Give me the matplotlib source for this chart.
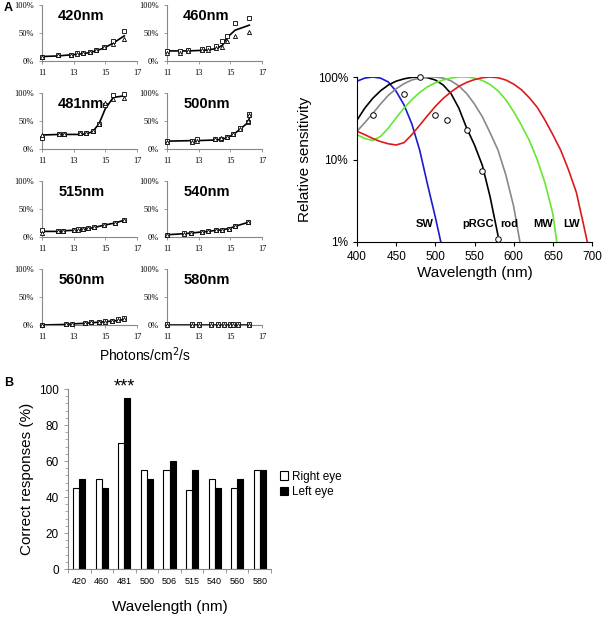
import numpy as np
import matplotlib
matplotlib.use('Agg')
import matplotlib.pyplot as plt

plt.rcParams['font.family'] = ['Liberation Sans', 'DejaVu Sans']

###  A (left): % correct vs log photons/cm2/s, squares / triangles + fit  ###
x420 = [11, 12, 12.8, 13.2, 13.6, 14, 14.4, 14.9, 15.5, 16.2]
sq420 = [8, 10, 11, 15, 15, 16, 19, 25, 35, 54]
tri420 = [8, 10, 11, 13, 15, 16, 19, 25, 30, 40]
fit420 = [8, 9, 11, 12, 13, 15, 18, 23, 32, 45]

x460 = [11, 11.8, 12.3, 13.2, 13.6, 14.1, 14.5, 14.8, 15.3, 16.2]
sq460 = [17, 17, 19, 21, 23, 26, 35, 45, 68, 76]
tri460 = [14, 15, 18, 19, 20, 23, 25, 35, 45, 52]
fit460 = [18, 18, 18, 19, 20, 22, 28, 42, 55, 64]

x481 = [11, 12.1, 12.4, 13.4, 13.8, 14.2, 14.6, 15.0, 15.5, 16.2]
sq481 = [20, 26, 26, 28, 28, 33, 45, 78, 97, 98]
tri481 = [25, 26, 26, 28, 28, 33, 45, 82, 90, 91]
fit481 = [25, 26, 26, 26, 27, 31, 45, 72, 92, 95]

x500 = [11, 12.6, 12.9, 14.0, 14.4, 14.8, 15.2, 15.6, 16.1, 16.2]
sq500 = [14, 14, 17, 18, 18, 22, 27, 38, 48, 62]
tri500 = [12, 13, 15, 18, 20, 22, 27, 35, 50, 60]
fit500 = [14, 15, 15, 16, 17, 20, 26, 35, 47, 55]

x515 = [11, 12, 12.3, 13, 13.3, 13.6, 13.9, 14.3, 14.9, 15.6, 16.2]
sq515 = [12, 10, 11, 12, 14, 15, 16, 18, 21, 25, 30]
tri515 = [8, 10, 11, 12, 13, 15, 16, 18, 21, 25, 30]
fit515 = [10, 10, 11, 12, 13, 14, 15, 17, 21, 25, 30]

x540 = [11, 12.1, 12.5, 13.2, 13.6, 14.1, 14.5, 14.9, 15.3, 16.1]
sq540 = [4, 7, 8, 9, 10, 12, 13, 14, 19, 26]
tri540 = [3, 6, 7, 9, 10, 12, 13, 14, 19, 26]
fit540 = [4, 6, 7, 9, 10, 12, 13, 15, 19, 26]

x560 = [11, 12.5, 12.9, 13.7, 14.1, 14.6, 15.0, 15.4, 15.8, 16.2]
sq560 = [0, 1, 2, 4, 5, 6, 7, 8, 10, 12]
tri560 = [0, 1, 2, 3, 5, 6, 6, 8, 9, 10]
fit560 = [0, 1, 2, 3, 4, 5, 6, 7, 8, 10]

x580 = [11, 12.6, 13.0, 13.8, 14.2, 14.6, 15.0, 15.2, 15.5, 16.2]
sq580 = [1, 1, 1, 1, 1, 1, 1, 1, 1, 1]
tri580 = [0, 0, 0, 0, 0, 0, 0, 0, 0, 0]
fit580 = [0.5, 0.5, 0.5, 0.5, 0.5, 0.5, 0.5, 0.5, 0.5, 0.5]

###  A (right): relative spectral sensitivity  ###
sw_nm = [400, 410, 420, 430, 440, 450, 460, 470, 480, 490, 500, 507]
sw = [0.89, 0.97, 1.0, 0.97, 0.87, 0.67, 0.46, 0.27, 0.13, 0.05, 0.02, 0.01]

prgc_nm = [400, 410, 420, 430, 440, 450, 460, 470, 480, 490, 500, 510, 520,
           530, 540, 550, 560, 570, 580]
prgc = [0.30, 0.42, 0.55, 0.68, 0.80, 0.89, 0.95, 0.99, 1.0, 0.98, 0.92,
        0.80, 0.63, 0.42, 0.24, 0.15, 0.085, 0.035, 0.012]

rod_nm = [400, 410, 420, 430, 440, 450, 460, 470, 480, 490, 500, 510, 520,
          530, 540, 550, 560, 570, 580, 590, 600, 608]
rod = [0.22, 0.28, 0.36, 0.47, 0.60, 0.72, 0.83, 0.92, 0.97, 1.0, 1.0, 0.97,
       0.90, 0.78, 0.63, 0.47, 0.33, 0.21, 0.13, 0.065, 0.027, 0.01]

mw_nm = [400, 410, 420, 430, 440, 450, 460, 470, 480, 490, 500, 510, 520,
         530, 540, 550, 560, 570, 580, 590, 600, 610, 620, 630, 640, 650, 655]
mw = [0.20, 0.18, 0.17, 0.19, 0.24, 0.32, 0.42, 0.53, 0.65, 0.76, 0.85, 0.92,
      0.97, 1.0, 1.0, 0.97, 0.91, 0.81, 0.68, 0.53, 0.38, 0.26, 0.17, 0.10,
      0.052, 0.022, 0.01]

lw_nm = [400, 410, 420, 430, 440, 450, 460, 470, 480, 490, 500, 510, 520,
         530, 540, 550, 560, 570, 580, 590, 600, 610, 620, 630, 640, 650,
         660, 670, 680, 690, 694]
lw = [0.22, 0.20, 0.18, 0.165, 0.155, 0.15, 0.16, 0.20, 0.26, 0.34, 0.44,
      0.55, 0.66, 0.77, 0.86, 0.93, 0.98, 1.0, 0.98, 0.92, 0.82, 0.70, 0.56,
      0.43, 0.30, 0.20, 0.13, 0.075, 0.04, 0.015, 0.01]

circ_nm = [420, 460, 481, 500, 515, 540, 560, 580]
circ = [0.35, 0.62, 1.0, 0.35, 0.30, 0.23, 0.073, 0.011]

###  B: correct responses  ###
wl_labels = ['420', '460', '481', '500', '506', '515', '540', '560', '580']
right_eye = [45, 50, 70, 55, 55, 44, 50, 45, 55]
left_eye = [50, 45, 95, 50, 60, 55, 45, 50, 55]

W, H = 606, 617
fig = plt.figure(figsize=(W / 100, H / 100), dpi=100)


def px_axes(left, top, width, height):
    return fig.add_axes([left / W, 1 - (top + height) / H, width / W, height / H])


small = [('420nm', x420, sq420, tri420, fit420), ('460nm', x460, sq460, tri460, fit460),
         ('481nm', x481, sq481, tri481, fit481), ('500nm', x500, sq500, tri500, fit500),
         ('515nm', x515, sq515, tri515, fit515), ('540nm', x540, sq540, tri540, fit540),
         ('560nm', x560, sq560, tri560, fit560), ('580nm', x580, sq580, tri580, fit580)]
tops = [5, 93, 181, 269]
lefts = [42, 167]
serif = ['Liberation Serif', 'DejaVu Serif']

for i, (name, x, sq, tri, fit) in enumerate(small):
    ax = px_axes(lefts[i % 2], tops[i // 2], 95, 56)
    ax.plot(x, fit, color='black', lw=1.2, zorder=2)
    ax.plot(x, sq, 's', ms=3, mfc='white', mec='black', mew=0.6, zorder=3, clip_on=False)
    ax.plot(x, tri, '^', ms=3, mfc='white', mec='black', mew=0.6, zorder=3, clip_on=False)
    ax.set_xlim(11, 17)
    ax.set_ylim(0, 100)
    ax.set_xticks([11, 13, 15, 17])
    ax.set_yticks([0, 50, 100])
    ax.set_yticklabels(['0%', '50%', '100%'])
    for s in ['top', 'right']:
        ax.spines[s].set_visible(False)
    for s in ['left', 'bottom']:
        ax.spines[s].set_color('#888888')
        ax.spines[s].set_linewidth(0.8)
    ax.tick_params(length=2, width=0.6, color='#888888', labelsize=6, pad=4)
    for lab in ax.get_xticklabels() + ax.get_yticklabels():
        lab.set_family(serif)
    ax.text(0.17, 0.8, name, transform=ax.transAxes, fontsize=10.5,
            fontweight='bold', va='center')

fig.text(145 / W, 1 - 355 / H, 'Photons/cm$^2$/s', ha='center', va='center', fontsize=10)

# spectral sensitivity
ax = px_axes(357, 77, 235, 165)
ax.plot(sw_nm, sw, color='#1a1ad0', lw=1.2)
ax.plot(prgc_nm, prgc, color='black', lw=1.2)
ax.plot(rod_nm, rod, color='#888888', lw=1.2)
ax.plot(mw_nm, mw, color='#66e633', lw=1.2)
ax.plot(lw_nm, lw, color='#dd1a1a', lw=1.2)
ax.plot(circ_nm, circ, 'o', ms=4, mfc='white', mec='black', mew=0.7, clip_on=False, zorder=4)
ax.set_yscale('log')
ax.set_xlim(400, 700)
ax.set_ylim(0.01, 1)
ax.set_xticks(range(400, 701, 50))
ax.set_yticks([0.01, 0.1, 1])
ax.set_yticklabels(['1%', '10%', '100%'])
ax.yaxis.set_minor_locator(matplotlib.ticker.NullLocator())
for s in ['top', 'right']:
    ax.spines[s].set_visible(False)
ax.tick_params(length=3, width=0.8, labelsize=8.5)
ax.set_ylabel('Relative sensitivity', fontsize=11)
ax.set_xlabel('Wavelength (nm)', fontsize=11, labelpad=2)
for lab, lx in [('SW', 487), ('pRGC', 555), ('rod', 594), ('MW', 638), ('LW', 674)]:
    ax.text(lx, 0.0165, lab, ha='center', va='center', fontsize=8, fontweight='bold')

# correct responses
ax = px_axes(68, 389, 203, 180)
pos = np.arange(len(wl_labels))
bw = 0.27
ax.bar(pos - bw / 2, right_eye, bw, color='white', edgecolor='black', lw=0.8, label='Right eye')
ax.bar(pos + bw / 2, left_eye, bw, color='black', edgecolor='black', lw=0.8, label='Left eye')
ax.set_xlim(-0.5, len(wl_labels) - 0.5)
ax.set_ylim(0, 100)
ax.set_xticks(pos)
ax.set_xticklabels(wl_labels, fontsize=6.5)
ax.set_xticks(np.arange(len(wl_labels) + 1) - 0.5, minor=True)
ax.tick_params(axis='x', which='major', length=0, pad=6)
ax.tick_params(axis='x', which='minor', length=3, width=0.6, color='#888888')
ax.set_yticks(range(0, 101, 20))
ax.set_yticks(range(0, 101, 4), minor=True)
ax.tick_params(axis='y', which='major', length=3, width=0.6, color='#888888', labelsize=8.5)
ax.tick_params(axis='y', which='minor', length=2, width=0.5, color='#888888')
for s in ['top', 'right']:
    ax.spines[s].set_visible(False)
for s in ['left', 'bottom']:
    ax.spines[s].set_color('#888888')
    ax.spines[s].set_linewidth(0.8)
ax.set_ylabel('Correct responses (%)', fontsize=11)
ax.set_xlabel('Wavelength (nm)', fontsize=11, labelpad=10)
ax.text(2, 101, '***', ha='center', va='center', fontsize=13, clip_on=False)
ax.legend(loc='center left', bbox_to_anchor=(1.02, 0.47), frameon=False, fontsize=8.5,
          handlelength=0.7, handleheight=0.7, handletextpad=0.3, labelspacing=0.3,
          borderaxespad=0)

fig.text(4 / W, 1 - 8 / H, 'A', fontsize=9, fontweight='bold', va='center')
fig.text(4 / W, 1 - 383 / H, 'B', fontsize=9, fontweight='bold', va='center')

fig.savefig('out.png', dpi=100)
